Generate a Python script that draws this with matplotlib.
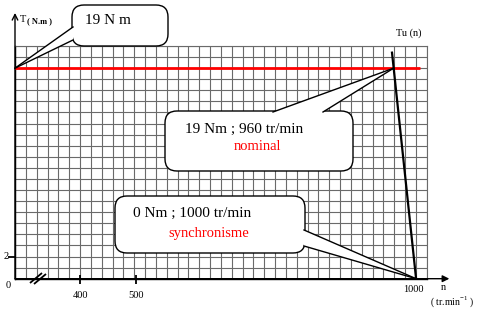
import numpy as np
import matplotlib
matplotlib.use("Agg")
import matplotlib.pyplot as plt
from matplotlib.patches import FancyBboxPatch, Polygon
from matplotlib.transforms import Affine2D

plt.rcParams['font.family'] = ['Liberation Serif', 'DejaVu Serif']

# data
n_ticks = [400, 500, 1000]
n_tick_labels = ["400", "500", "1000"]
T_ticks = [2]
red_n = [0, 1007]          # couple nominal (19 N.m)
red_T = [19, 19]
tu_n = [957, 960, 1000]    # caracteristique Tu(n)
tu_T = [20.4, 19, 0]
nominal_pt = (960, 19)
synchro_pt = (1000, 0)


def n_to_u(n):
    # axe coupe entre 0 et 400 : 6 carreaux jusqu'a 400, puis ~5.17 carreaux / 100 tr/min
    n = np.asarray(n, dtype=float)
    return np.where(n >= 400, 6 + (n - 400) * 0.0517, n * 6 / 400)


W, H = 482, 316
fig = plt.figure(figsize=(W / 100, H / 100), dpi=100)
ax = fig.add_axes([15 / W, (H - 278.7) / H, (426.7 - 15) / W, (278.7 - 46) / H])
ax.set_xlim(0, 38)
ax.set_ylim(0, 21)
ax.set_xticks(np.arange(0, 39))
ax.set_yticks(np.arange(0, 22))
ax.grid(True, color="#6a6a6a", lw=0.8)
ax.tick_params(length=0, labelbottom=False, labelleft=False)
for s in ["top", "right"]:
    ax.spines[s].set_color("#6a6a6a")
    ax.spines[s].set_linewidth(0.8)
for s in ["left", "bottom"]:
    ax.spines[s].set_color("black")
    ax.spines[s].set_linewidth(1.0)

# fleches des axes
ax.annotate("", xy=(0, 1.142), xytext=(0, 0), xycoords="axes fraction",
            arrowprops=dict(arrowstyle="->", lw=1.0, color="black",
                            shrinkA=0, shrinkB=0))
ax.annotate("", xy=(1.055, 0), xytext=(0, 0), xycoords="axes fraction",
            arrowprops=dict(arrowstyle="-|>", lw=1.0, color="black",
                            mutation_scale=10, shrinkA=0, shrinkB=0))

# courbes
ax.plot(n_to_u(red_n), red_T, color="#ff0000", lw=2.0, solid_capstyle="butt", zorder=3)
ax.plot(n_to_u(tu_n), tu_T, color="black", lw=1.6, zorder=4)

# transformation pixels (origine en haut a gauche)
pix = Affine2D().scale(1 / 100, -1 / 100).translate(0, H / 100) + fig.dpi_scale_trans


def to_px(u, T):
    x, y = ax.transData.transform((u, T))
    return x, H - y


def line_px(xs, ys, lw=1.0):
    fig.add_artist(plt.Line2D(xs, ys, transform=pix, color="black", lw=lw,
                              solid_capstyle="butt"))


# graduations
for n, lab in zip(n_ticks, n_tick_labels):
    x, y = to_px(float(n_to_u(n)), 0)
    if n != 1000:
        line_px([x, x], [y - 4, y + 5], lw=1.3)
        fig.text(x / W, 1 - 296 / H, lab, ha="center", va="center", fontsize=7.5)
    else:
        fig.text(x / W - 0.006, 1 - 289 / H, lab, ha="center", va="center", fontsize=7.5)
for t in T_ticks:
    x, y = to_px(0, t)
    line_px([x - 7, x + 1], [y, y], lw=1.3)
    fig.text(6 / W, 1 - y / H, str(t), ha="center", va="center", fontsize=7.5)
fig.text(8 / W, 1 - 285 / H, "0", ha="center", va="center", fontsize=7.5)

# coupure de l'axe
line_px([30, 42], [283, 273], lw=1.3)
line_px([34, 46], [284, 274], lw=1.3)

# titres des axes
fig.text(20 / W, 1 - 20 / H, "T", ha="left", va="center", fontsize=7.5)
fig.text(27 / W, 1 - 21 / H, "( N.m )", ha="left", va="center", fontsize=6, weight="bold")
fig.text(409 / W, 1 - 33 / H, "Tu (n)", ha="center", va="center", fontsize=7.5)
fig.text(443 / W, 1 - 288 / H, "n", ha="center", va="center", fontsize=7.5)
fig.text(452 / W, 1 - 302 / H, r"( tr.min$^{\mathregular{-1}}$ )", ha="center",
         va="center", fontsize=7)


def bubble(x0, y0, x1, y1, base1, base2, tip, r=12):
    box = FancyBboxPatch((x0 + r, y0 + r), x1 - x0 - 2 * r, y1 - y0 - 2 * r,
                         boxstyle="round,pad=%g" % r, transform=pix,
                         facecolor="white", edgecolor="black", lw=1.0, zorder=5)
    fig.add_artist(box)
    tail = Polygon([base1, tip, base2], closed=True, transform=pix,
                   facecolor="white", edgecolor="none", zorder=6)
    fig.add_artist(tail)
    for b in (base1, base2):
        a = plt.Line2D([b[0], tip[0]], [b[1], tip[1]], transform=pix,
                       color="black", lw=1.0, zorder=7)
        fig.add_artist(a)


tip1 = to_px(0, red_T[0])
bubble(72, 5, 168, 46, (73, 27), (73, 40), tip1, r=12)
fig.text(108 / W, 1 - 21 / H, "19 N m", ha="center", va="center", fontsize=11, zorder=8)

tip2 = to_px(float(n_to_u(nominal_pt[0])), nominal_pt[1])
bubble(165, 111, 353, 171, (273, 112), (323, 112), tip2, r=12)
fig.text(244 / W, 1 - 129 / H, "19 Nm ; 960 tr/min", ha="center", va="center",
         fontsize=11, zorder=8)
fig.text(257 / W, 1 - 147 / H, "nominal", ha="center", va="center", fontsize=10.5,
         color="#ff0000", zorder=8)

tip3 = to_px(float(n_to_u(synchro_pt[0])), synchro_pt[1])
bubble(115, 196, 305, 253, (304, 230), (304, 246), tip3, r=12)
fig.text(192 / W, 1 - 213 / H, "0 Nm ; 1000 tr/min", ha="center", va="center",
         fontsize=11, zorder=8)
fig.text(209 / W, 1 - 234 / H, "synchronisme", ha="center", va="center",
         fontsize=10.5, color="#ff0000", zorder=8)

fig.savefig("out.png", dpi=100)
